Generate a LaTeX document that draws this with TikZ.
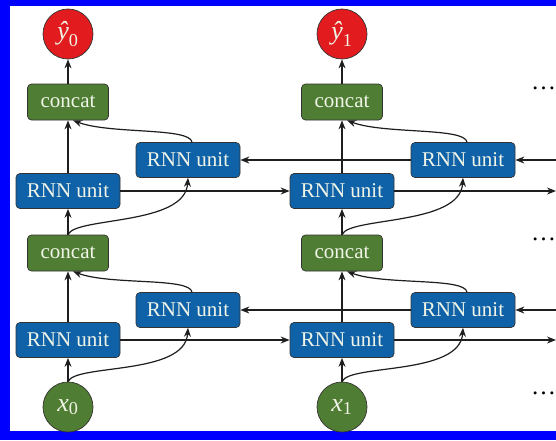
\documentclass[tikz,border=0pt]{standalone}
\usepackage{amsmath}
\usepackage{fontspec}
\setmainfont{Liberation Serif}
\usetikzlibrary{arrows.meta}
\definecolor{rnnblue}{RGB}{16,98,168}
\definecolor{catgreen}{RGB}{80,125,52}
\definecolor{outred}{RGB}{226,28,30}
\definecolor{frameblue}{RGB}{0,0,255}
\definecolor{linegray}{RGB}{30,30,30}
\definecolor{paletext}{RGB}{240,245,232}
\begin{document}
\begin{tikzpicture}[x=1pt,y=-1pt,
  lbl/.style={font=\fontsize{21}{24}\selectfont, text=paletext},
  rnn/.style={lbl, draw=black!80, line width=0.7pt, fill=rnnblue, rounded corners=4pt,
              minimum width=104pt, minimum height=35pt, inner sep=0pt},
  cat/.style={rnn, fill=catgreen, minimum width=81pt, minimum height=36pt},
  io/.style={font=\fontsize{26}{30}\selectfont, text=paletext, circle, draw=black!80,
             line width=0.7pt, minimum size=50pt, inner sep=0pt},
  arr/.style={draw=linegray, line width=1.2pt, -{Stealth[length=9pt,width=7pt]}},
  dots/.style={font=\fontsize{25}{28}\selectfont, text=black, anchor=base west, inner sep=0pt},
]
\useasboundingbox (0,0) rectangle (556,440);
% frame
\fill[frameblue] (0,0) rectangle (556,440);
\fill[white] (10,6) rectangle (556,431);

% outputs
\node[io, fill=outred] (y0) at (68,34) {$\text{\itshape ŷ}_{\text{0}}$};
\node[io, fill=outred] (y1) at (342,34) {$\text{\itshape ŷ}_{\text{1}}$};

% upper layer
\node[cat] (c0t) at (68,102) {concat};
\node[cat] (c1t) at (342,102) {concat};
\node[rnn] (b0t) at (188,160) {RNN unit};
\node[rnn] (b1t) at (463,160) {RNN unit};
\node[rnn] (f0t) at (68,191) {RNN unit};
\node[rnn] (f1t) at (342,191) {RNN unit};

% lower layer
\node[cat] (c0b) at (68,253) {concat};
\node[cat] (c1b) at (342,253) {concat};
\node[rnn] (b0b) at (188,310) {RNN unit};
\node[rnn] (b1b) at (463,310) {RNN unit};
\node[rnn] (f0b) at (68,340) {RNN unit};
\node[rnn] (f1b) at (342,340) {RNN unit};

% inputs
\node[io, fill=catgreen] (x0) at (68,407) {$\text{\itshape x}_{\text{0}}$};
\node[io, fill=catgreen] (x1) at (342,407) {$\text{\itshape x}_{\text{1}}$};

% continuation marks
\node[dots] (d1) at (531,89) {…};
\node[dots] (d2) at (531,240) {…};
\node[dots] (d3) at (531,394) {…};

% free ends at the right edge
\coordinate (ftr) at (556,191);
\coordinate (btr) at (556,160);
\coordinate (fbr) at (556,340);
\coordinate (bbr) at (556,310);

% recurrent connections
\draw[arr] (f0t.east) -- (f1t.west);
\draw[arr] (f1t.east) -- (ftr);
\draw[arr] (btr) -- (b1t.east);
\draw[arr] (b1t.west) -- (b0t.east);
\draw[arr] (f0b.east) -- (f1b.west);
\draw[arr] (f1b.east) -- (fbr);
\draw[arr] (bbr) -- (b1b.east);
\draw[arr] (b1b.west) -- (b0b.east);

% per-column connections
\foreach \c in {0,1}{
  \draw[arr] (x\c.north) -- (f\c b.south);
  \draw[arr] (x\c.north) .. controls +(7,-18) and +(-3,48) .. (b\c b.south);
  \draw[arr] (f\c b.north) -- (c\c b.south);
  \draw[arr] ([xshift=4pt]b\c b.north) .. controls +(-2,-15) and +(37,14) .. ([xshift=5pt]c\c b.south);
  \draw[arr] (c\c b.north) -- (f\c t.south);
  \draw[arr] (c\c b.north) .. controls +(7,-18) and +(-3,48) .. (b\c t.south);
  \draw[arr] (f\c t.north) -- (c\c t.south);
  \draw[arr] ([xshift=4pt]b\c t.north) .. controls +(-2,-15) and +(37,14) .. ([xshift=5pt]c\c t.south);
  \draw[arr] (c\c t.north) -- (y\c.south);
}
\end{tikzpicture}
\end{document}
